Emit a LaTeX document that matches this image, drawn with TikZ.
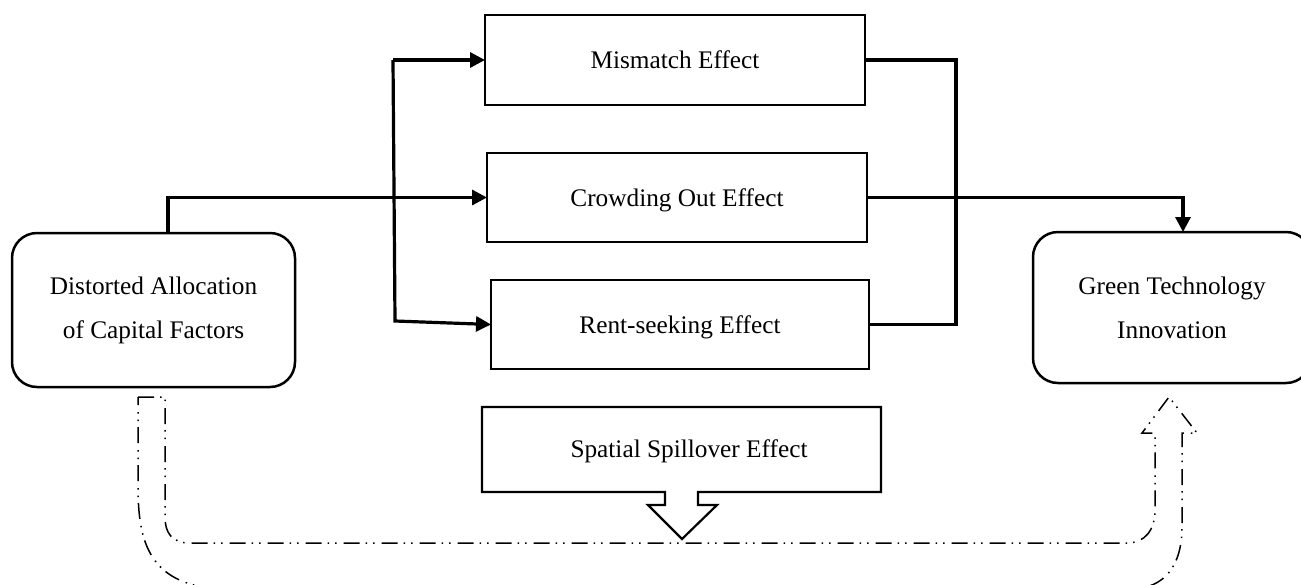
\documentclass[tikz,border=0pt]{standalone}
\usepackage{fontspec}
\setmainfont{Liberation Serif}
\usetikzlibrary{arrows.meta}
\begin{document}
\begin{tikzpicture}[x=1pt,y=-1pt,
  every node/.style={font=\fontsize{25.3}{44}\selectfont, align=center, outer sep=0pt, inner sep=0pt},
  oneline/.style={text height=17.5pt, text depth=0pt},
  effbox/.style={draw, line width=2.2pt, oneline, minimum width=#1, minimum height=89pt},
  endbox/.style={draw, line width=2.5pt, rounded corners=25pt},
  conn/.style={line width=3.2pt},
  tipped/.style={conn, -{Triangle[length=15pt,width=15pt]}},
  uarrow/.style={line width=1.5pt, dash pattern=on 16pt off 6pt on 1.5pt off 6pt on 1.5pt off 7pt}
]
\useasboundingbox (0,0) rectangle (1301,584);

% effect boxes
\node[effbox=380pt, minimum height=90pt] (mis) at (675,60) {Mismatch Effect};
\node[effbox=380pt] (crowd) at (677,197.5) {Crowding Out Effect};
\node[effbox=378pt] (rent) at (680,324.5) {Rent-seeking Effect};

% end boxes
\node[endbox, minimum width=283pt, minimum height=154pt] (dist) at (153.5,310) {Distorted Allocation\\of Capital Factors};
\node[endbox, minimum width=278pt, minimum height=151pt] (green) at (1172,307.5) {Green Technology\\Innovation};

% spatial spillover callout
\draw[line width=2.2pt, line join=miter] (482,407) -- (881,407) -- (881,492) -- (698,492) -- (698,505) -- (717,505)
  -- (682,539) -- (648,505) -- (665,505) -- (665,492) -- (482,492) -- cycle;
\node[oneline] (spill) at (689,449) {Spatial Spillover Effect};

% left connectors
\coordinate (vtop) at (393,60);
\coordinate (vbot) at (395,321);
\coordinate (dtop) at (168,233);
\draw[tipped] (vtop) -- (mis.west);
\draw[tipped] (vtop) -- (vbot) -- (rent.west);
\draw[tipped] (dtop) -- (dtop |- crowd.west) -- (crowd.west);

% right connectors
\coordinate (rv) at (956,0);
\coordinate (gx) at (1183,0);
\draw[conn] (mis.east) -- (mis.east -| rv) -- (rent.east -| rv) -- (rent.east);
\draw[tipped] (crowd.east) -- (crowd.east -| gx) -- (gx |- green.north);

% U-turn dash-dot arrow
\draw[uarrow] (138,397) -- (165,397) -- (165,517) .. controls (165,533) and (172,543) .. (190,543)
  -- (1127,543) .. controls (1145,543) and (1155,530) .. (1155,510) -- (1155,433) -- (1142,433)
  -- (1169,397) -- (1197,433) -- (1182,433) -- (1182,527) .. controls (1182,565) and (1165,589) .. (1130,589)
  -- (230,589) .. controls (147,589) and (138,540) .. (138,485) -- cycle;
\end{tikzpicture}
\end{document}
